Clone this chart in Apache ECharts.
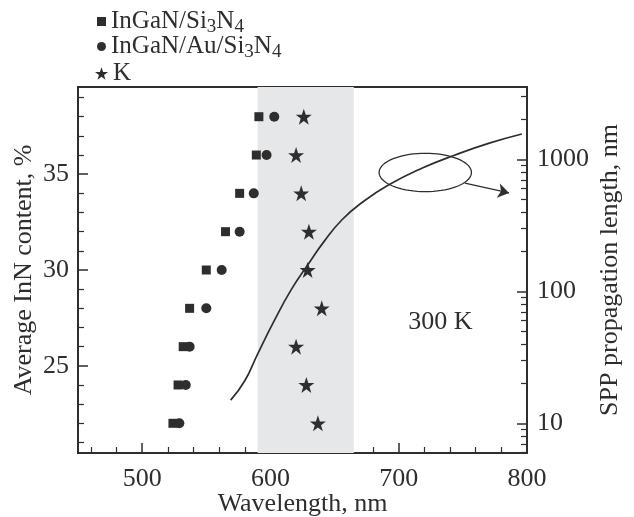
<!DOCTYPE html>
<html>
<head>
<meta charset="utf-8">
<script src="https://cdn.jsdelivr.net/npm/echarts@6/dist/echarts.min.js"></script>
<style>
  html, body { margin: 0; padding: 0; background: #fff; }
  #chart { width: 634px; height: 517px; }
</style>
</head>
<body>
<div id="chart"></div>
<script>
// InN content levels (left axis, %)
var content = [38, 36, 34, 32, 30, 28, 26, 24, 22];
// wavelength of each sample, nm
var wlSi3N4 = [591, 589, 576, 565, 550, 537, 532, 528, 524];
var wlAuSi3N4 = [603, 597, 587, 576, 562, 550, 537, 534, 529];
var wlK = [626, 620, 624, 630, 629, 640, 620, 628, 637];
// SPP propagation length curve (right axis, log)
var sppWl = [569, 580, 590, 603, 616, 629, 642, 656, 672, 692, 718, 744, 770, 796];
var sppLen = [15, 21, 33.5, 60, 102, 158, 240, 350, 475, 638, 855, 1079, 1321, 1556];
// shaded wavelength band
var band = [590, 665];
// ellipse annotation: centre (nm, %) and half-axes
var ellipse = { x: 720.7, y: 35.09, rx: 36, ry: 1.0 };
var arrow = [[751.6, 34.53], [786, 34.02]];

var xMajor = [500, 600, 700, 800];
var xMinor = [460, 480, 520, 540, 560, 580, 620, 640, 660, 680, 720, 740, 760, 780];
var yMajor = [25, 30, 35];
var yMinor = [21, 22, 23, 24, 26, 27, 28, 29, 31, 32, 33, 34, 36, 37, 38, 39];
var logMajor = [10, 100, 1000];
var logMinor = [6, 7, 8, 9, 20, 30, 40, 50, 60, 70, 80, 90, 200, 300, 400, 500, 600, 700, 800, 900, 2000, 3000];

var FONT = 'Liberation Serif';
var FS = 26;
var INK = '#2e2e2e';
var STAR = 'path://M50,0 L61.8,34.5 L97.6,34.5 L68.5,55.9 L79.4,90.5 L50,69.1 L20.6,90.5 L31.5,55.9 L2.4,34.5 L38.2,34.5 Z';

function pairs(xs, ys) {
    var arr = [];
    for (var i = 0; i < xs.length; i++) {
        arr.push([xs[i], ys[i]]);
    }
    return arr;
}

var myChart = echarts.init(document.getElementById('chart'));

var legendRich = {
    s: { fontFamily: FONT, fontSize: 19, color: INK, padding: [11, 0, 0, 0] }
};
function legendBox(name, icon, size, top) {
    return {
        data: [name],
        orient: 'vertical',
        left: 92 + (9 - size) / 2,
        top: top,
        icon: icon,
        itemWidth: size,
        itemHeight: size,
        inactiveColor: INK,
        selectedMode: false,
        formatter: function (n) {
            return n.replace(/Si3/g, 'Si{s|3}').replace(/N4/g, 'N{s|4}');
        },
        textStyle: { fontFamily: FONT, fontSize: 25, color: INK, padding: [0, 0, 0, 0], rich: legendRich }
    };
}

var option = {
    animation: false,
    textStyle: { fontFamily: FONT },
    legend: [
        legendBox('InGaN/Si3N4', 'rect', 9, 4),
        legendBox('InGaN/Au/Si3N4', 'circle', 9, 29),
        legendBox('K', STAR, 13, 56)
    ],
    grid: {
        left: 78, right: 107, top: 87, bottom: 64,
        outerBoundsMode: 'none', containLabel: false,
        show: true, borderColor: INK, borderWidth: 2, backgroundColor: 'transparent'
    },
    xAxis: [{
        type: 'value', min: 450, max: 800, position: 'bottom',
        name: 'Wavelength, nm', nameLocation: 'middle', nameGap: 38, nameMoveOverlap: false,
        nameTextStyle: { fontFamily: FONT, fontSize: FS, color: INK },
        axisLine: { show: false },
        splitLine: { show: false },
        axisTick: { inside: true, length: 10, customValues: xMajor, lineStyle: { color: INK, width: 1.5 } },
        axisLabel: { customValues: xMajor, fontFamily: FONT, fontSize: FS, color: INK, margin: 13 }
    }, {
        type: 'value', min: 450, max: 800, position: 'bottom',
        axisLine: { show: false },
        splitLine: { show: false },
        axisTick: { inside: true, length: 6, customValues: xMinor, lineStyle: { color: INK, width: 1.2 } },
        axisLabel: { show: false }
    }],
    yAxis: [{
        type: 'value', min: 20.45, max: 39.55, position: 'left',
        name: 'Average InN content, %', nameLocation: 'middle', nameGap: 41, nameRotate: 90, nameMoveOverlap: false,
        nameTextStyle: { fontFamily: FONT, fontSize: FS, color: INK },
        axisLine: { show: false },
        splitLine: { show: false },
        axisTick: { inside: true, length: 10, customValues: yMajor, lineStyle: { color: INK, width: 1.5 } },
        axisLabel: { customValues: yMajor, fontFamily: FONT, fontSize: FS, color: INK, margin: 9 }
    }, {
        type: 'value', min: 20.45, max: 39.55, position: 'left',
        axisLine: { show: false },
        splitLine: { show: false },
        axisTick: { inside: true, length: 6, customValues: yMinor, lineStyle: { color: INK, width: 1.2 } },
        axisLabel: { show: false }
    }, {
        type: 'log', min: 5.96, max: 3530, position: 'right',
        name: 'SPP propagation length, nm', nameLocation: 'middle', nameGap: 70, nameRotate: 90, nameMoveOverlap: false,
        nameTextStyle: { fontFamily: FONT, fontSize: FS, color: INK },
        axisLine: { show: false },
        splitLine: { show: false },
        axisTick: { inside: true, length: 10, customValues: logMajor, lineStyle: { color: INK, width: 1.5 } },
        axisLabel: {
            customValues: logMajor, fontFamily: FONT, fontSize: FS, color: INK, margin: 10,
            formatter: function (v) { return String(Math.round(v)); }
        }
    }, {
        type: 'log', min: 5.96, max: 3530, position: 'right',
        axisLine: { show: false },
        splitLine: { show: false },
        axisTick: { inside: true, length: 6, customValues: logMinor, lineStyle: { color: INK, width: 1.2 } },
        axisLabel: { show: false }
    }],
    series: [{
        name: 'band',
        type: 'line',
        data: [],
        z: 0,
        markArea: {
            silent: true,
            itemStyle: { color: '#e6e7e9' },
            data: [[{ xAxis: band[0] }, { xAxis: band[1] }]]
        }
    }, {
        name: 'InGaN/Si3N4',
        type: 'scatter',
        symbol: 'rect',
        symbolSize: 9,
        itemStyle: { color: INK, opacity: 1 },
        data: pairs(wlSi3N4, content),
        z: 3
    }, {
        name: 'InGaN/Au/Si3N4',
        type: 'scatter',
        symbol: 'circle',
        symbolSize: 10,
        itemStyle: { color: INK, opacity: 1 },
        data: pairs(wlAuSi3N4, content),
        z: 4
    }, {
        name: 'K',
        type: 'scatter',
        symbol: STAR,
        symbolSize: 16,
        itemStyle: { color: INK, opacity: 1 },
        data: pairs(wlK, content),
        z: 4,
        markPoint: {
            symbol: 'circle', symbolSize: 0,
            label: { show: true, formatter: '300 K', fontFamily: FONT, fontSize: FS, color: INK },
            data: [{ coord: [732.4, 27.3] }]
        },
        markLine: {
            silent: true,
            symbol: ['none', 'arrow'],
            symbolSize: 11,
            lineStyle: { color: INK, width: 1.3, type: 'solid' },
            label: { show: false },
            data: [[{ coord: arrow[0] }, { coord: arrow[1] }]]
        }
    }, {
        name: 'SPP',
        type: 'line',
        yAxisIndex: 2,
        smooth: 0.5,
        showSymbol: false,
        lineStyle: { color: INK, width: 1.7 },
        data: pairs(sppWl, sppLen),
        z: 5
    }, {
        name: 'ellipse',
        type: 'custom',
        data: [[ellipse.x, ellipse.y]],
        z: 5,
        renderItem: function (params, api) {
            var pts = [];
            for (var k = 0; k < 72; k++) {
                var t = k / 72 * Math.PI * 2;
                pts.push(api.coord([ellipse.x + ellipse.rx * Math.cos(t), ellipse.y + ellipse.ry * Math.sin(t)]));
            }
            return {
                type: 'polygon',
                shape: { points: pts },
                style: { fill: 'none', stroke: INK, lineWidth: 1.3 }
            };
        }
    }]
};

myChart.setOption(option);
</script>
</body>
</html>
